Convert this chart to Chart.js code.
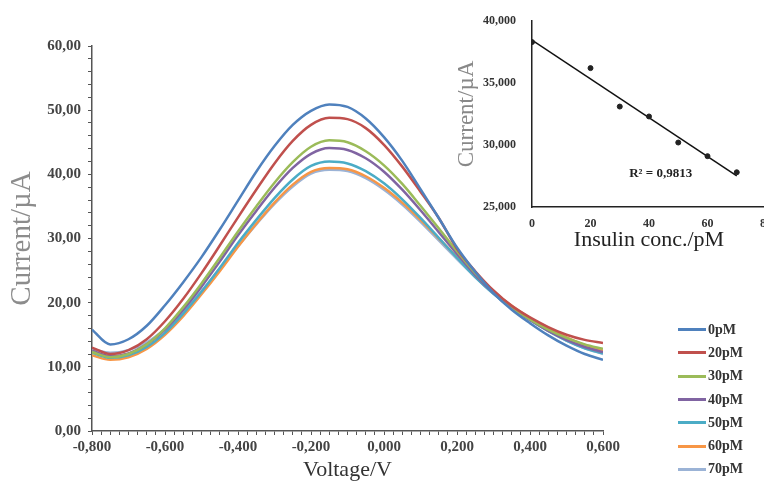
<!DOCTYPE html>
<html>
<head>
<meta charset="utf-8">
<script src="https://cdn.jsdelivr.net/npm/chart.js@4.4.0/dist/chart.umd.min.js"></script>
<style>
  html, body { margin: 0; padding: 0; background: #fff; overflow: hidden; }
  #wrap { position: relative; width: 764px; height: 486px; overflow: hidden; }
  #main { position: absolute; left: 0; top: 0; }
  #inset { position: absolute; left: 440px; top: 0; }
  #legend { position: absolute; left: 678px; top: 318px; font: bold 14px "Liberation Serif", serif; color: #333; }
  .row { height: 23.3px; display: flex; align-items: center; }
  .swatch { width: 28px; height: 3px; margin-right: 2px; }
</style>
</head>
<body>
<div id="wrap">
  <canvas id="main" width="764" height="486"></canvas>
  <canvas id="inset" width="340" height="262"></canvas>
  <div id="legend"></div>
</div>
<script>
// voltage axis (V)
const voltage = [-0.80, -0.75, -0.70, -0.65, -0.60, -0.55, -0.50, -0.45, -0.40, -0.35,
  -0.30, -0.25, -0.20, -0.15, -0.10, -0.05, 0.00, 0.05, 0.10, 0.15,
  0.20, 0.25, 0.30, 0.35, 0.40, 0.45, 0.50, 0.55, 0.60];

// current (µA) for each insulin concentration
const cur0 = [15.8, 13.5, 14.3, 16.4, 19.6, 23.2, 27.1, 31.4, 35.9, 40.4,
  44.4, 47.7, 49.9, 50.9, 50.5, 48.7, 45.8, 42.1, 37.7, 33.2,
  28.6, 24.8, 21.5, 18.9, 16.8, 14.9, 13.3, 12.0, 11.1];
const cur20 = [13.0, 12.0, 12.6, 14.3, 17.1, 20.6, 24.6, 28.9, 33.3, 37.6,
  41.7, 45.2, 47.7, 48.8, 48.6, 47.2, 44.6, 41.2, 37.3, 33.2,
  28.4, 24.9, 21.9, 19.5, 17.7, 16.2, 15.0, 14.2, 13.7];
const cur30 = [12.3, 11.5, 12.0, 13.5, 16.0, 19.3, 23.0, 27.0, 31.1, 35.0,
  38.7, 41.9, 44.3, 45.3, 45.0, 43.6, 41.4, 38.5, 35.1, 31.6,
  28.0, 24.6, 21.7, 19.3, 17.4, 15.8, 14.5, 13.5, 12.8];
const cur40 = [12.5, 11.7, 12.1, 13.5, 15.8, 18.9, 22.5, 26.4, 30.5, 34.3,
  37.9, 41.0, 43.2, 44.1, 43.8, 42.5, 40.4, 37.6, 34.4, 31.0,
  27.6, 24.3, 21.5, 19.2, 17.3, 15.6, 14.2, 13.1, 12.3];
const cur50 = [12.2, 11.4, 11.8, 13.1, 15.3, 18.3, 21.7, 25.4, 29.3, 32.9,
  36.3, 39.2, 41.3, 42.0, 41.7, 40.5, 38.6, 36.1, 33.2, 30.1,
  27.0, 24.0, 21.4, 19.2, 17.3, 15.6, 14.1, 12.9, 12.1];
const cur60 = [11.8, 11.1, 11.5, 12.8, 15.0, 17.9, 21.3, 24.9, 28.7, 32.3,
  35.6, 38.4, 40.4, 41.0, 40.8, 39.7, 37.9, 35.6, 32.9, 30.0,
  27.1, 24.3, 21.7, 19.5, 17.6, 16.0, 14.6, 13.4, 12.5];
const cur70 = [12.8, 12.2, 12.6, 13.8, 15.9, 18.6, 21.8, 25.3, 28.8, 32.2,
  35.4, 38.1, 40.1, 40.7, 40.5, 39.4, 37.6, 35.3, 32.6, 29.7,
  26.8, 24.0, 21.4, 19.2, 17.3, 15.6, 14.1, 12.9, 12.0];

const seriesNames = ["0pM", "20pM", "30pM", "40pM", "50pM", "60pM", "70pM"];
const seriesColors = ["#4f81bd", "#c0504d", "#9bbb59", "#8064a2", "#4bacc6", "#f79646", "#9bb3d6"];
const mainSeries = [cur0, cur20, cur30, cur40, cur50, cur60, cur70];

// inset: peak current vs concentration
const insulinConc = [0, 20, 30, 40, 50, 60, 70];
const peakCurrent = [38.3, 36.2, 33.1, 32.3, 30.2, 29.1, 27.8];
const r2Text = "R² = 0,9813";

// tick labels
const xMajor = [-0.8, -0.6, -0.4, -0.2, 0, 0.2, 0.4, 0.6];
const yMajor = [0, 10, 20, 30, 40, 50, 60];

const serif = "Liberation Serif";
const fmt = (v, d) => (Math.abs(v) < 1e-9 ? 0 : v).toFixed(d).replace(".", ",");
const isIn = (list, v) => list.some((m) => Math.abs(m - v) < 1e-6);

// ---------- main chart ----------
new Chart(document.getElementById("main"), {
  type: "line",
  data: {
    datasets: mainSeries.map((s, i) => ({
      label: seriesNames[i],
      data: voltage.map((v, j) => ({ x: v, y: s[j] })),
      borderColor: seriesColors[i],
      backgroundColor: seriesColors[i],
      borderWidth: 2.5,
      pointRadius: 0,
      cubicInterpolationMode: "monotone",
    })),
  },
  options: {
    responsive: false,
    animation: false,
    layout: { padding: { left: 0, top: 46, right: 161, bottom: 0 } },
    plugins: { legend: { display: false }, tooltip: { enabled: false } },
    scales: {
      x: {
        type: "linear",
        min: -0.8,
        max: 0.6,
        ticks: {
          stepSize: 0.025,
          autoSkip: false,
          maxRotation: 0,
          padding: 3,
          color: "#444",
          font: { family: serif, weight: "bold", size: 15 },
          callback: (v) => (isIn(xMajor, v) ? fmt(v, 3) : ""),
        },
        grid: { drawOnChartArea: false, tickLength: 4, color: "#555" },
        border: { color: "#555", width: 1.5 },
        title: {
          display: true,
          text: "Voltage/V",
          color: "#333",
          font: { family: serif, size: 22 },
          padding: { top: 0, bottom: 3 },
        },
        afterFit: (s) => { s.height = 55; },
      },
      y: {
        min: 0,
        max: 60,
        ticks: {
          stepSize: 2,
          autoSkip: false,
          padding: 7,
          color: "#444",
          font: { family: serif, weight: "bold", size: 15 },
          callback: (v) => (isIn(yMajor, v) ? fmt(v, 2) : ""),
        },
        grid: { drawOnChartArea: false, tickLength: 4, color: "#555" },
        border: { color: "#555", width: 1.5 },
        title: {
          display: true,
          text: "Current/µA",
          color: "#8c8c8c",
          font: { family: serif, size: 29 },
          padding: { top: 5, bottom: 0 },
        },
        afterFit: (s) => { s.width = 92; },
      },
    },
  },
});

// legend
const legend = document.getElementById("legend");
seriesNames.forEach((name, i) => {
  const row = document.createElement("div");
  row.className = "row";
  row.innerHTML = `<span class="swatch" style="background:${seriesColors[i]}"></span>${name}`;
  legend.appendChild(row);
});

// ---------- inset ----------
const n = insulinConc.length;
const mx = insulinConc.reduce((a, b) => a + b, 0) / n;
const my = peakCurrent.reduce((a, b) => a + b, 0) / n;
let sxy = 0, sxx = 0;
insulinConc.forEach((x, i) => {
  sxy += (x - mx) * (peakCurrent[i] - my);
  sxx += (x - mx) * (x - mx);
});
const slope = sxy / sxx;
const intercept = my - slope * mx;
const xFirst = insulinConc[0];
const xLast = insulinConc[n - 1];

const r2Label = {
  id: "r2Label",
  afterDatasetsDraw(chart) {
    const { ctx, scales } = chart;
    ctx.save();
    ctx.font = `bold 13px "${serif}"`;
    ctx.fillStyle = "#222";
    ctx.textAlign = "center";
    ctx.textBaseline = "middle";
    ctx.fillText(r2Text, scales.x.getPixelForValue(44), scales.y.getPixelForValue(27.7));
    ctx.restore();
  },
};

new Chart(document.getElementById("inset"), {
  type: "scatter",
  data: {
    datasets: [
      {
        data: insulinConc.map((x, i) => ({ x: x, y: peakCurrent[i] })),
        backgroundColor: "#222",
        borderColor: "#222",
        pointRadius: 2.5,
      },
      {
        type: "line",
        data: [
          { x: xFirst, y: intercept + slope * xFirst },
          { x: xLast, y: intercept + slope * xLast },
        ],
        borderColor: "#111",
        borderWidth: 1.5,
        pointRadius: 0,
      },
    ],
  },
  options: {
    responsive: false,
    animation: false,
    layout: { padding: { left: 0, top: 21, right: 14, bottom: 0 } },
    plugins: { legend: { display: false }, tooltip: { enabled: false } },
    scales: {
      x: {
        type: "linear",
        min: 0,
        max: 80,
        ticks: {
          stepSize: 20,
          maxRotation: 0,
          padding: 2,
          color: "#333",
          font: { family: serif, weight: "bold", size: 12 },
        },
        grid: { display: false },
        border: { color: "#222", width: 1.5 },
        title: {
          display: true,
          text: "Insulin conc./pM",
          color: "#222",
          font: { family: serif, size: 22 },
          padding: { top: 0, bottom: 9 },
        },
        afterFit: (s) => { s.height = 55; },
      },
      y: {
        min: 25,
        max: 40,
        ticks: {
          stepSize: 5,
          padding: 8,
          color: "#333",
          font: { family: serif, weight: "bold", size: 12 },
          callback: (v) => fmt(v, 3),
        },
        grid: { display: false },
        border: { color: "#222", width: 1.5 },
        title: {
          display: true,
          text: "Current/µA",
          color: "#888",
          font: { family: serif, size: 23 },
          padding: { top: 13, bottom: 0 },
        },
        afterFit: (s) => { s.width = 92; },
      },
    },
  },
  plugins: [r2Label],
});
</script>
</body>
</html>
